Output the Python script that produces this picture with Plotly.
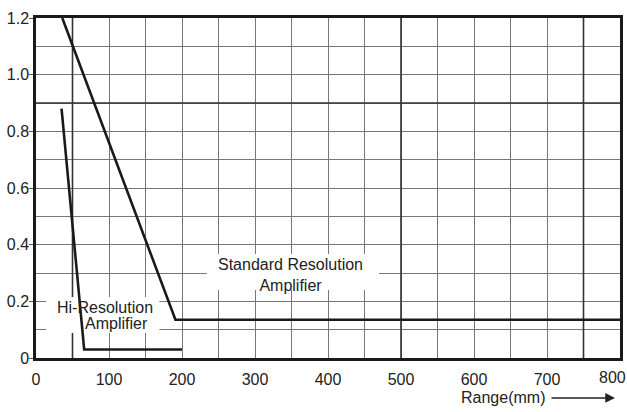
import plotly.graph_objects as go

# Curve data (range in mm vs. value)
std_x = [36, 191, 800]
std_y = [1.2, 0.135, 0.135]
hires_x = [35, 66, 200]
hires_y = [0.88, 0.03, 0.03]

x_ticks = [0, 100, 200, 300, 400, 500, 600, 700, 800]
x_tick_text = ["0", "100", "200", "300", "400", "500", "600", "700", "800"]
y_ticks = [0, 0.2, 0.4, 0.6, 0.8, 1.0, 1.2]
y_tick_text = ["0", "0.2", "0.4", "0.6", "0.8", "1.0", "1.2"]

FONT = "Liberation Sans, Arial, sans-serif"
INK = "#1a1a1a"
TXT = "#222"

fig = go.Figure()
fig.add_trace(go.Scatter(x=std_x, y=std_y, mode="lines",
                         line=dict(color=INK, width=2.6), hoverinfo="skip"))
fig.add_trace(go.Scatter(x=hires_x, y=hires_y, mode="lines",
                         line=dict(color=INK, width=2.6), hoverinfo="skip"))

shapes = []
# heavier grid lines
for xv in [50, 500, 750]:
    shapes.append(dict(type="line", xref="x", yref="y", x0=xv, x1=xv, y0=0, y1=1.2,
                       line=dict(color="#333", width=1.6), layer="between"))
shapes.append(dict(type="line", xref="x", yref="y", x0=0, x1=800, y0=0.9, y1=0.9,
                   line=dict(color="#333", width=1.6), layer="between"))
# white label backgrounds over the grid
shapes.append(dict(type="rect", xref="x", yref="y", x0=234, x1=470, y0=0.24, y1=0.367,
                   fillcolor="white", line=dict(width=0), layer="between"))
shapes.append(dict(type="rect", xref="x", yref="y", x0=14, x1=169, y0=0.088, y1=0.215,
                   fillcolor="white", line=dict(width=0), layer="between"))

annotations = [
    dict(x=349, y=0.293, xref="x", yref="y", showarrow=False,
         text="Standard Resolution<br>Amplifier", align="center",
         font=dict(family=FONT, size=16, color=TXT)),
    dict(x=94, y=0.177, xref="x", yref="y", showarrow=False,
         text="Hi-Resolution", font=dict(family=FONT, size=16, color=TXT)),
    dict(x=110, y=0.121, xref="x", yref="y", showarrow=False,
         text="Amplifier", font=dict(family=FONT, size=16, color=TXT)),
    # last range label, pulled inside the page edge
    dict(x=x_ticks[-1], y=-0.0588, xref="x", yref="paper", showarrow=False,
         text=x_tick_text[-1], xanchor="center", yanchor="middle", xshift=-8,
         font=dict(family=FONT, size=16, color=TXT)),
    # axis caption with an arrow pointing along the range axis
    dict(x=0.875, y=-0.1176, xref="paper", yref="paper", showarrow=False,
         text="Range(mm)", xanchor="right", yanchor="middle",
         font=dict(family=FONT, size=16, color=TXT)),
    dict(x=0.9914, y=-0.1176, xref="paper", yref="paper",
         ax=-65, ay=0, axref="pixel", ayref="pixel", text="", showarrow=True,
         arrowhead=2, arrowsize=1.3, arrowwidth=1.5, arrowcolor=TXT),
]

fig.update_layout(
    width=627, height=412,
    margin=dict(l=36, r=7, t=18, b=54),
    paper_bgcolor="white", plot_bgcolor="white",
    showlegend=False,
    shapes=shapes,
    annotations=annotations,
    font=dict(family=FONT, size=16, color=TXT),
    xaxis=dict(range=[0, 800], tickvals=x_ticks[:-1], ticktext=x_tick_text[:-1],
               ticks="", showgrid=True,
               gridcolor="#777", gridwidth=1, automargin=False,
               showline=True, linecolor=INK, linewidth=2.5, mirror=True,
               zeroline=False, ticklabelstandoff=5,
               minor=dict(dtick=50, showgrid=True, gridcolor="#777", gridwidth=1)),
    yaxis=dict(range=[0, 1.2], tickvals=y_ticks, ticktext=y_tick_text,
               ticks="outside", ticklen=4, tickcolor="#555", automargin=False,
               showgrid=True, gridcolor="#777", gridwidth=1,
               showline=True, linecolor=INK, linewidth=2.5, mirror=True,
               zeroline=False, ticklabelstandoff=-3, ticklabeloverflow="allow",
               minor=dict(dtick=0.1, showgrid=True, gridcolor="#777", gridwidth=1)),
)

fig.write_html("out.html")
